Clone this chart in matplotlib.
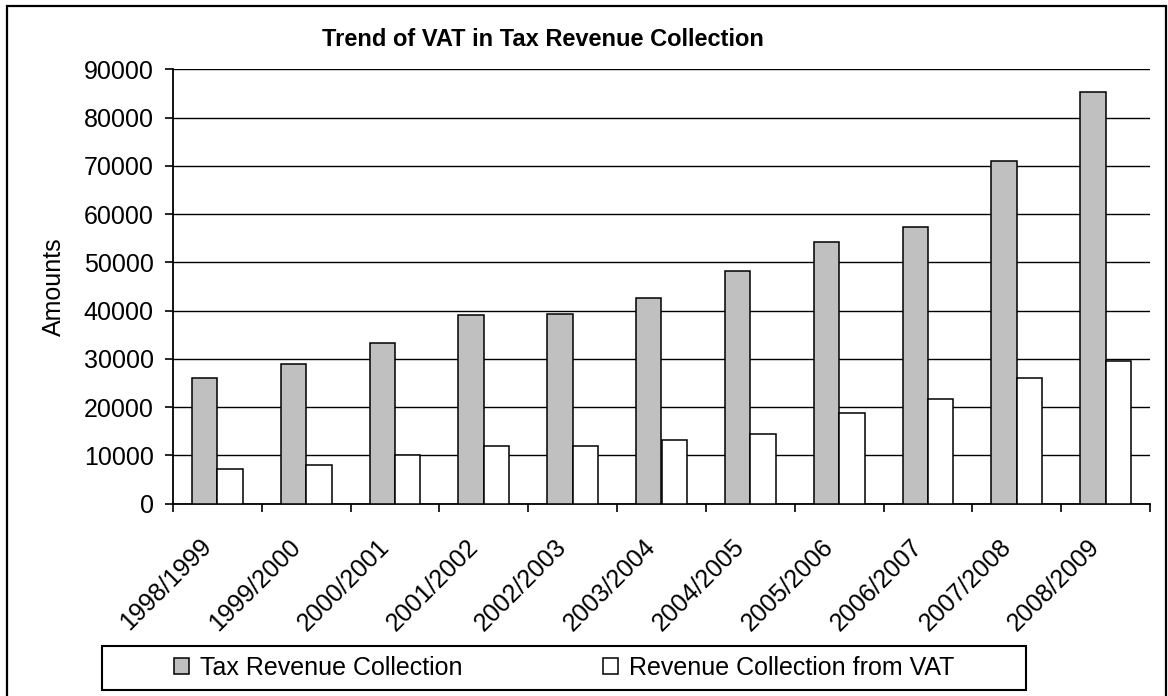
import numpy as np
import matplotlib.pyplot as plt
import matplotlib.transforms as mtransforms
from matplotlib.patches import Patch, Rectangle

plt.rcParams['font.family'] = ['Liberation Sans', 'DejaVu Sans']

# Fiscal years and collections
years = ['1998/1999', '1999/2000', '2000/2001', '2001/2002', '2002/2003',
         '2003/2004', '2004/2005', '2005/2006', '2006/2007', '2007/2008',
         '2008/2009']
tax_revenue = [26000, 28900, 33300, 39000, 39300, 42500, 48100, 54200,
               57300, 71000, 85200]
vat_revenue = [7200, 8000, 10000, 12000, 11900, 13100, 14400, 18800,
               21600, 26000, 29600]

W, H = 1168, 696
BAR_W = 1 / 3.5  # excel-style gap width of 150%
FS = 18


def main():
    fig = plt.figure(figsize=(W / 100, H / 100), dpi=100)
    ax = fig.add_axes([173 / W, 1 - 503.5 / H, (1150 - 173) / W, (503.5 - 69.3) / H])

    x = np.arange(len(years))
    ax.bar(x - BAR_W / 2, tax_revenue, BAR_W, color='#c0c0c0',
           edgecolor='black', linewidth=1.1, zorder=3)
    ax.bar(x + BAR_W / 2, vat_revenue, BAR_W, color='white',
           edgecolor='black', linewidth=1.1, zorder=3)

    ax.set_xlim(-0.5, len(years) - 0.5)
    ax.set_ylim(0, 90000)
    ax.set_yticks(np.arange(0, 90001, 10000))
    ax.yaxis.grid(True, color='black', linewidth=1.0)
    ax.set_axisbelow(True)

    # ticks between categories, labels at the centres
    ax.set_xticks(np.arange(-0.5, len(years)), labels=[])
    ax.set_xticks(x, labels=years, minor=True)
    ax.tick_params(axis='x', which='minor', length=0, pad=10)
    ax.tick_params(axis='x', which='major', length=6, width=1.2)
    ax.tick_params(axis='y', length=6, width=1.2, pad=8)
    shift = mtransforms.ScaledTranslation(-18 / 100, -17 / 100, fig.dpi_scale_trans)
    for lab in ax.get_xticklabels(minor=True):
        lab.set_rotation(45)
        lab.set_ha('right')
        lab.set_va('top')
        lab.set_rotation_mode('anchor')
        lab.set_fontsize(FS)
        lab.set_transform(lab.get_transform() + shift)
    for lab in ax.get_yticklabels():
        lab.set_fontsize(FS)

    for side in ['top', 'right']:
        ax.spines[side].set_visible(False)
    for side in ['left', 'bottom']:
        ax.spines[side].set_linewidth(1.3)

    fig.text(543 / W, 1 - 40 / H, 'Trend of VAT in Tax Revenue Collection',
             ha='center', va='center', fontsize=17, fontweight='bold')
    fig.text(54 / W, 1 - 287 / H, 'Amounts', rotation=90, ha='center',
             va='center', fontsize=FS)

    # legend box with the entries centred inside it
    box_x0, box_x1, box_y0, box_y1 = 102, 1026, 646, 690
    fig.patches.append(Rectangle((box_x0 / W, 1 - box_y1 / H),
                                 (box_x1 - box_x0) / W, (box_y1 - box_y0) / H,
                                 transform=fig.transFigure, facecolor='white',
                                 edgecolor='black', linewidth=1.5))
    handles = [Patch(facecolor='#c0c0c0', edgecolor='black', linewidth=1.1),
               Patch(facecolor='white', edgecolor='black', linewidth=1.1)]
    fig.legend(handles, ['Tax Revenue Collection', 'Revenue Collection from VAT'],
               ncol=2, loc='center',
               bbox_to_anchor=((box_x0 + box_x1) / 2 / W, 1 - (box_y0 + box_y1) / 2 / H),
               fontsize=FS, handlelength=0.6, handleheight=0.6,
               handletextpad=0.45, columnspacing=5.6, frameon=False,
               borderpad=0, borderaxespad=0)

    # chart border
    fig.patches.append(Rectangle((7 / W, -0.05), (1166 - 7) / W, 1.05 - 6 / H,
                                 transform=fig.transFigure, fill=False,
                                 edgecolor='black', linewidth=1.6))

    fig.savefig('out.png', dpi=100)


if __name__ == '__main__':
    main()
